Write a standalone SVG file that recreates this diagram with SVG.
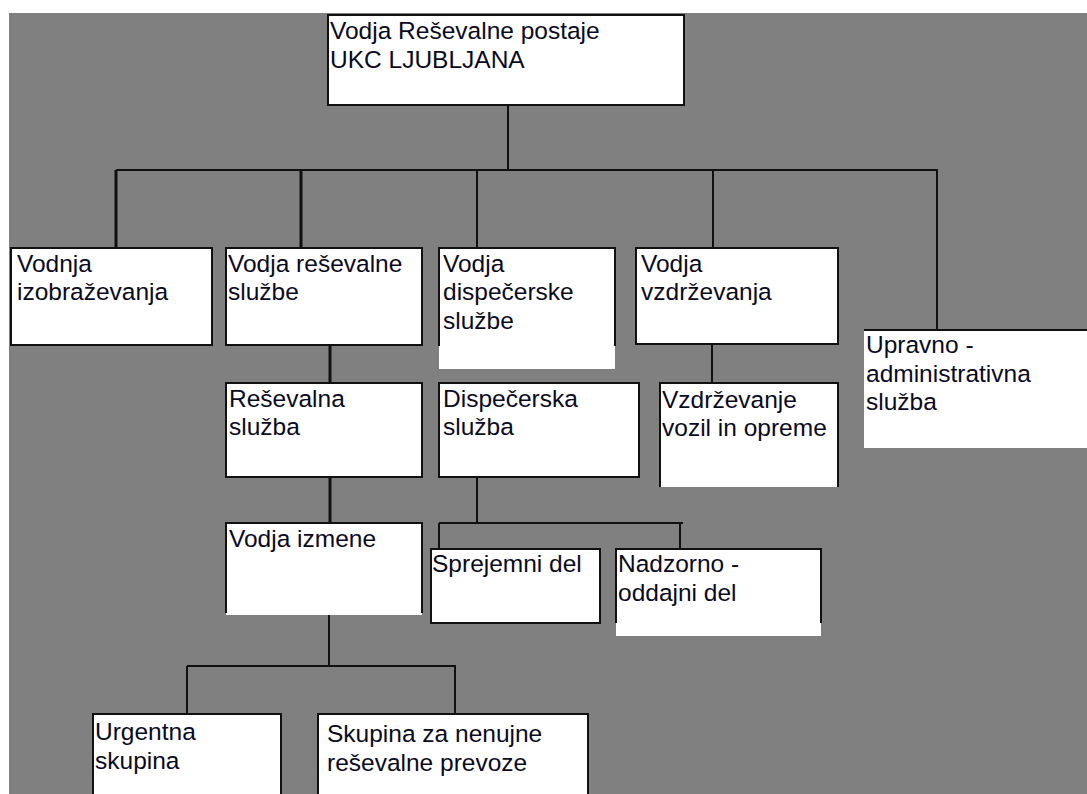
<svg xmlns="http://www.w3.org/2000/svg" width="1087" height="794" viewBox="0 0 1087 794">
<style>
.bg{fill:#808080}
.box{fill:#fff}
.bd{fill:none;stroke:#111;stroke-width:2}
.ln{fill:none;stroke:#111;stroke-width:2}
.lt{fill:none;stroke:#111;stroke-width:3}
text{font-family:"Liberation Sans",Arial,sans-serif;font-size:24.5px;fill:#0a0a1e}
</style>
<rect x="0" y="0" width="1087" height="794" fill="#fff"/>
<rect class="bg" x="9" y="13" width="1078" height="781"/>
<g id="connectors">
<path class="ln" d="M508,105 V170 M116,170 H938"/>
<path class="lt" d="M116,170 V248 M301,170 V248"/>
<path class="ln" d="M477,170 V248 M713,170 V248 M937,170 V330"/>
<path class="lt" d="M330,345 V383 M330,477 V523"/>
<path class="ln" d="M712,344 V383"/>
<path class="ln" d="M477,477 V523 M439,523 H683 M439,523 V549 M680,523 V549"/>
<path class="ln" d="M329,615 V666 M187,666 H456 M187,666 V714 M455,666 V715"/>
</g>
<g id="n-top">
<rect class="box" x="328" y="15" width="356" height="90"/>
<rect class="bd" x="328" y="15" width="356" height="90"/>
<text x="330" y="39">Vodja Reševalne postaje</text>
<text x="330" y="68">UKC LJUBLJANA</text>
</g>
<g id="n-izobr">
<rect class="box" x="11" y="248" width="201" height="97"/>
<rect class="bd" x="11" y="248" width="201" height="97"/>
<text x="17" y="272">Vodnja</text>
<text x="17" y="300">izobraževanja</text>
</g>
<g id="n-vres">
<rect class="box" x="226" y="248" width="196" height="97"/>
<rect class="bd" x="226" y="248" width="196" height="97"/>
<text x="228" y="272">Vodja reševalne</text>
<text x="228" y="300">službe</text>
</g>
<g id="n-vdisp">
<rect class="box" x="439" y="248" width="176" height="121"/>
<path class="bd" d="M439,346 V248 H615 V346"/>
<text x="443" y="272">Vodja</text>
<text x="443" y="300">dispečerske</text>
<text x="443" y="329">službe</text>
</g>
<g id="n-vvzd">
<rect class="box" x="636" y="248" width="202" height="96"/>
<rect class="bd" x="636" y="248" width="202" height="96"/>
<text x="641" y="272">Vodja</text>
<text x="641" y="300">vzdrževanja</text>
</g>
<g id="n-uprav">
<rect class="box" x="864" y="330" width="223" height="118"/>
<path class="bd" d="M864,330 H1087"/>
<text x="866" y="353">Upravno -</text>
<text x="866" y="382">administrativna</text>
<text x="866" y="410">služba</text>
</g>
<g id="n-res">
<rect class="box" x="226" y="383" width="196" height="94"/>
<rect class="bd" x="226" y="383" width="196" height="94"/>
<text x="229" y="407">Reševalna</text>
<text x="229" y="435">služba</text>
</g>
<g id="n-disp">
<rect class="box" x="439" y="383" width="200" height="94"/>
<rect class="bd" x="439" y="383" width="200" height="94"/>
<text x="443" y="407">Dispečerska</text>
<text x="443" y="435">služba</text>
</g>
<g id="n-vzd">
<rect class="box" x="660" y="383" width="178" height="104"/>
<path class="bd" d="M660,487 V383 H838 V487"/>
<text x="662" y="408">Vzdrževanje</text>
<text x="662" y="436">vozil in opreme</text>
</g>
<g id="n-izm">
<rect class="box" x="226" y="523" width="196" height="92"/>
<path class="bd" d="M226,613 V523 H422 V613"/>
<text x="229" y="547">Vodja izmene</text>
</g>
<g id="n-sprej">
<rect class="box" x="431" y="549" width="169" height="74"/>
<rect class="bd" x="431" y="549" width="169" height="74"/>
<text x="432" y="572">Sprejemni del</text>
</g>
<g id="n-nadz">
<rect class="box" x="616" y="549" width="205" height="87"/>
<path class="bd" d="M616,623 V549 H821 V623"/>
<text x="618" y="572">Nadzorno -</text>
<text x="618" y="601">oddajni del</text>
</g>
<g id="n-urg">
<rect class="box" x="93" y="714" width="188" height="80"/>
<path class="bd" d="M93,794 V714 H281 V794"/>
<text x="95" y="740">Urgentna</text>
<text x="95" y="769">skupina</text>
</g>
<g id="n-skup">
<rect class="box" x="318" y="714" width="270" height="80"/>
<path class="bd" d="M318,794 V714 H588 V794"/>
<text x="327" y="742">Skupina za nenujne</text>
<text x="327" y="771">reševalne prevoze</text>
</g>
</svg>
